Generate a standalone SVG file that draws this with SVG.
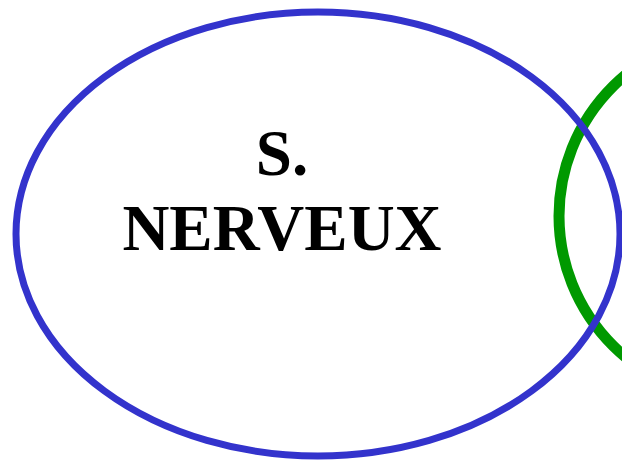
<svg xmlns="http://www.w3.org/2000/svg" width="622" height="461" viewBox="0 0 622 461">
<style>
.lbl{font-family:"Liberation Serif","Times New Roman",serif;font-weight:bold;font-size:65px;fill:#000;text-anchor:middle}
</style>
<rect width="622" height="461" fill="#fff"/>
<g id="green-node">
<ellipse cx="745" cy="216" rx="186" ry="184" fill="none" stroke="#009900" stroke-width="11"/>
</g>
<g id="nerveux-node">
<ellipse cx="318" cy="234" rx="302" ry="222" fill="none" stroke="#3333cc" stroke-width="7"/>
<text class="lbl" x="282" y="175">S.</text>
<text class="lbl" x="282" y="250">NERVEUX</text>
</g>
<g id="connectors"/>
</svg>
